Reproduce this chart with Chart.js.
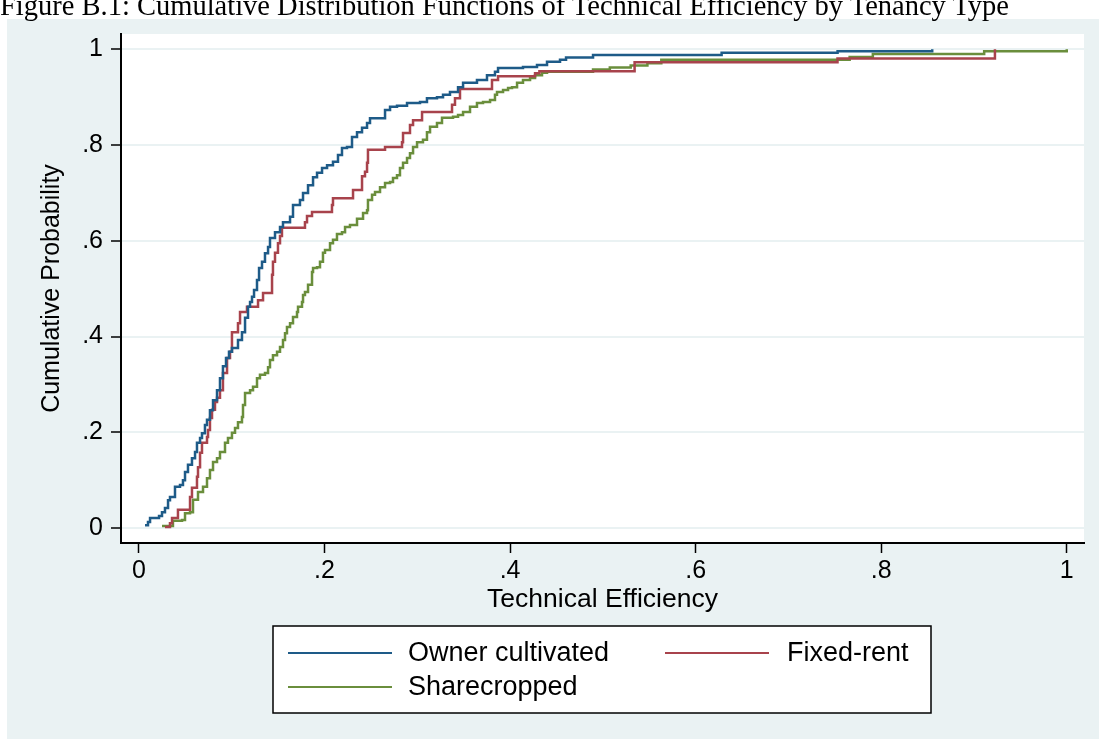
<!DOCTYPE html>
<html>
<head>
<meta charset="utf-8">
<script src="https://cdn.jsdelivr.net/npm/chart.js@4.4.1/dist/chart.umd.min.js"></script>
<style>
  html, body { margin: 0; padding: 0; background: #ffffff; }
  #wrap { position: relative; width: 1099px; height: 739px; overflow: hidden; }
  #c { position: absolute; left: 0; top: 0; }
  #fig-title {
    position: absolute; left: 0; top: -9px; line-height: 30px;
    font-family: "Liberation Serif", "Times New Roman", serif; font-size: 28.5px;
    color: #000; white-space: nowrap; z-index: 2;
  }
</style>
</head>
<body>
<div id="wrap">
  <canvas id="c" width="1099" height="739"></canvas>
  <div id="fig-title">Figure B.1: Cumulative Distribution Functions of Technical Efficiency by Tenancy Type</div>
</div>
<script>
// Empirical CDFs of technical efficiency, one pair of arrays per tenancy group
const seriesNames = ['Owner cultivated', 'Fixed-rent', 'Sharecropped'];

const ownerX = [0.0065,0.0097,0.0119,0.0216,0.0248,0.0280,0.0313,0.0334,0.0388,0.0442,0.0474,0.0496,0.0528,0.0571,0.0604,0.0625,0.0658,0.0679,0.0711,0.0733,0.0765,0.0798,0.0841,0.0873,0.0905,0.0938,0.0970,0.1002,0.1067,0.1110,0.1143,0.1175,0.1197,0.1218,0.1240,0.1272,0.1294,0.1326,0.1358,0.1391,0.1412,0.1466,0.1520,0.1552,0.1628,0.1660,0.1735,0.1768,0.1822,0.1876,0.1919,0.1973,0.2027,0.2091,0.2145,0.2188,0.2242,0.2296,0.2350,0.2404,0.2458,0.2490,0.2652,0.2706,0.2781,0.2889,0.3029,0.3104,0.3212,0.3277,0.3352,0.3439,0.3493,0.3643,0.3751,0.3837,0.3870,0.4139,0.4290,0.4398,0.4538,0.4603,0.4894,0.628,0.753,0.855];
const ownerY = [0.006,0.0125,0.021,0.025,0.033,0.042,0.058,0.065,0.086,0.090,0.100,0.117,0.132,0.146,0.159,0.178,0.188,0.198,0.215,0.226,0.246,0.267,0.288,0.313,0.338,0.355,0.368,0.376,0.393,0.409,0.439,0.462,0.472,0.483,0.497,0.518,0.543,0.556,0.574,0.587,0.606,0.618,0.629,0.639,0.650,0.675,0.685,0.700,0.716,0.733,0.742,0.752,0.758,0.765,0.779,0.794,0.796,0.817,0.827,0.836,0.846,0.856,0.873,0.880,0.882,0.888,0.890,0.898,0.900,0.905,0.911,0.921,0.930,0.936,0.946,0.953,0.961,0.963,0.967,0.974,0.978,0.983,0.988,0.993,0.996,1.0];

const rentX = [0.0280,0.0334,0.0356,0.0420,0.0550,0.0571,0.0625,0.0636,0.0658,0.0679,0.0733,0.0744,0.0765,0.0787,0.0819,0.0841,0.0873,0.0905,0.0949,0.0981,0.1002,0.1067,0.1089,0.1164,0.1283,0.1337,0.1434,0.1444,0.1466,0.1498,0.1520,0.1541,0.1789,0.1811,0.1865,0.2080,0.2091,0.2307,0.2404,0.2436,0.2458,0.2468,0.2652,0.2835,0.2846,0.2921,0.2954,0.3051,0.3374,0.3406,0.3460,0.3805,0.3870,0.4269,0.4316,0.5342,0.7529,0.9226];
const rentY = [0.002,0.010,0.021,0.038,0.065,0.084,0.107,0.127,0.157,0.178,0.190,0.205,0.230,0.247,0.263,0.272,0.288,0.324,0.355,0.368,0.409,0.428,0.451,0.462,0.476,0.491,0.529,0.556,0.575,0.595,0.610,0.627,0.639,0.652,0.660,0.675,0.689,0.706,0.735,0.744,0.763,0.790,0.796,0.806,0.825,0.842,0.852,0.869,0.884,0.898,0.917,0.936,0.944,0.950,0.954,0.973,0.981,1.0];

const shareX = [0.0248,0.0366,0.0464,0.0496,0.0550,0.0582,0.0636,0.0690,0.0733,0.0765,0.0798,0.0841,0.0873,0.0927,0.0959,0.1002,0.1035,0.1067,0.1110,0.1121,0.1143,0.1197,0.1229,0.1272,0.1304,0.1358,0.1391,0.1412,0.1444,0.1488,0.1520,0.1552,0.1574,0.1595,0.1628,0.1660,0.1703,0.1714,0.1757,0.1768,0.1789,0.1822,0.1865,0.1876,0.1919,0.1951,0.1983,0.2005,0.2059,0.2091,0.2134,0.2188,0.2221,0.2274,0.2350,0.2415,0.2458,0.2468,0.2512,0.2544,0.2598,0.2652,0.2706,0.2738,0.2781,0.2813,0.2846,0.2889,0.2921,0.2954,0.2997,0.3061,0.3104,0.3137,0.3212,0.3266,0.3385,0.3439,0.3493,0.3568,0.3643,0.3708,0.3784,0.3837,0.3859,0.3924,0.3978,0.4021,0.4075,0.4139,0.4215,0.4269,0.4344,0.4398,0.4894,0.5075,0.5300,0.5480,0.5630,0.7660,0.7910,0.9110,1.0];
const shareY = [0.004,0.015,0.017,0.031,0.033,0.059,0.075,0.086,0.104,0.121,0.138,0.146,0.159,0.178,0.188,0.199,0.209,0.221,0.232,0.257,0.282,0.288,0.295,0.313,0.320,0.324,0.336,0.351,0.361,0.368,0.378,0.393,0.407,0.420,0.428,0.441,0.451,0.462,0.472,0.487,0.493,0.508,0.535,0.543,0.545,0.556,0.575,0.581,0.595,0.602,0.614,0.618,0.629,0.633,0.646,0.658,0.664,0.685,0.696,0.702,0.712,0.721,0.723,0.731,0.737,0.752,0.763,0.773,0.783,0.796,0.806,0.811,0.827,0.838,0.846,0.857,0.859,0.863,0.869,0.880,0.888,0.890,0.894,0.905,0.911,0.915,0.919,0.921,0.930,0.936,0.940,0.946,0.951,0.953,0.958,0.962,0.966,0.971,0.978,0.984,0.990,0.996,1.0];

// Axis ticks and their printed labels
const xTicks = [0, 0.2, 0.4, 0.6, 0.8, 1];
const xTickLabels = ['0', '.2', '.4', '.6', '.8', '1'];
const yTicks = [0, 0.2, 0.4, 0.6, 0.8, 1];
const yTickLabels = ['0', '.2', '.4', '.6', '.8', '1'];

const lineColors = ['#1e5b88', '#a8434c', '#6a8e3c'];
const bgColor = '#eaf2f3';
const FONT = '"Liberation Sans", Arial, Helvetica, sans-serif';
const TICK_SIZE = 25;
const KEY_SIZE = 27;

const toPoints = (xs, ys) => xs.map((x, i) => ({ x: x, y: ys[i] }));

// Graph region fill and white plot region
const backdrop = {
  id: 'backdrop',
  beforeDraw(chart) {
    const { ctx, chartArea: a } = chart;
    ctx.save();
    ctx.fillStyle = '#ffffff';
    ctx.fillRect(0, 0, chart.width, chart.height);
    ctx.fillStyle = bgColor;
    ctx.fillRect(7, 19, chart.width - 7, chart.height - 19);
    ctx.fillStyle = '#ffffff';
    ctx.fillRect(a.left, a.top, a.right - a.left, a.bottom - a.top);
    ctx.restore();
  }
};

// Boxed legend below the axis title, two keys per row
const boxLegend = {
  id: 'boxLegend',
  afterDraw(chart) {
    const { ctx } = chart;
    const box = { x: 273, y: 626, w: 658, h: 87 };
    const slots = [
      { lx: 288, ly: 653, tx: 408 },
      { lx: 665, ly: 653, tx: 787 },
      { lx: 288, ly: 687, tx: 408 }
    ];
    ctx.save();
    ctx.fillStyle = '#ffffff';
    ctx.fillRect(box.x, box.y, box.w, box.h);
    ctx.strokeStyle = '#000000';
    ctx.lineWidth = 1.5;
    ctx.strokeRect(box.x, box.y, box.w, box.h);
    ctx.font = KEY_SIZE + 'px ' + FONT;
    ctx.textBaseline = 'middle';
    ctx.textAlign = 'left';
    chart.data.datasets.forEach((ds, i) => {
      const s = slots[i];
      ctx.strokeStyle = ds.borderColor;
      ctx.lineWidth = 2.2;
      ctx.beginPath();
      ctx.moveTo(s.lx, s.ly);
      ctx.lineTo(s.lx + 104, s.ly);
      ctx.stroke();
      ctx.fillStyle = '#000000';
      ctx.fillText(ds.label, s.tx, s.ly + 1);
    });
    ctx.restore();
  }
};

new Chart(document.getElementById('c'), {
  type: 'line',
  data: {
    datasets: [
      { label: seriesNames[0], data: toPoints(ownerX, ownerY), borderColor: lineColors[0] },
      { label: seriesNames[1], data: toPoints(rentX, rentY), borderColor: lineColors[1] },
      { label: seriesNames[2], data: toPoints(shareX, shareY), borderColor: lineColors[2] }
    ].map(d => Object.assign(d, { stepped: 'before', borderWidth: 2.5, pointRadius: 0, fill: false, tension: 0 }))
  },
  options: {
    responsive: false,
    animation: false,
    devicePixelRatio: 1,
    layout: { padding: { left: 0, top: 34, right: 15, bottom: 106 } },
    plugins: { legend: { display: false }, tooltip: { enabled: false }, title: { display: false } },
    scales: {
      x: {
        type: 'linear',
        min: -0.0194, max: 1.0186,
        afterBuildTicks: s => { s.ticks = xTicks.map(v => ({ value: v })); },
        afterFit: s => { s.height = 90; },
        ticks: {
          color: '#000', padding: 3, maxRotation: 0,
          font: { family: FONT, size: TICK_SIZE },
          callback: (v, i) => xTickLabels[i]
        },
        grid: { drawOnChartArea: false, tickLength: 10, tickColor: '#000', tickWidth: 1.5 },
        border: { color: '#000', width: 2 },
        title: {
          display: true, text: 'Technical Efficiency', color: '#000',
          font: { family: FONT, size: 26.5, lineHeight: 1.2 },
          padding: { top: 0, bottom: 17 }
        }
      },
      y: {
        type: 'linear',
        min: -0.0313, max: 1.032,
        afterBuildTicks: s => { s.ticks = yTicks.map(v => ({ value: v })); },
        afterFit: s => { s.width = 121; },
        ticks: {
          color: '#000', padding: 8,
          font: { family: FONT, size: TICK_SIZE },
          callback: (v, i) => yTickLabels[i]
        },
        grid: { color: bgColor, lineWidth: 2, tickLength: 10, tickColor: '#000', tickWidth: 1.5 },
        border: { color: '#000', width: 2 },
        title: {
          display: true, text: 'Cumulative Probability', color: '#000',
          font: { family: FONT, size: 25, lineHeight: 1.2 },
          padding: { top: 37, bottom: 0 }
        }
      }
    }
  },
  plugins: [backdrop, boxLegend]
});
</script>
</body>
</html>
